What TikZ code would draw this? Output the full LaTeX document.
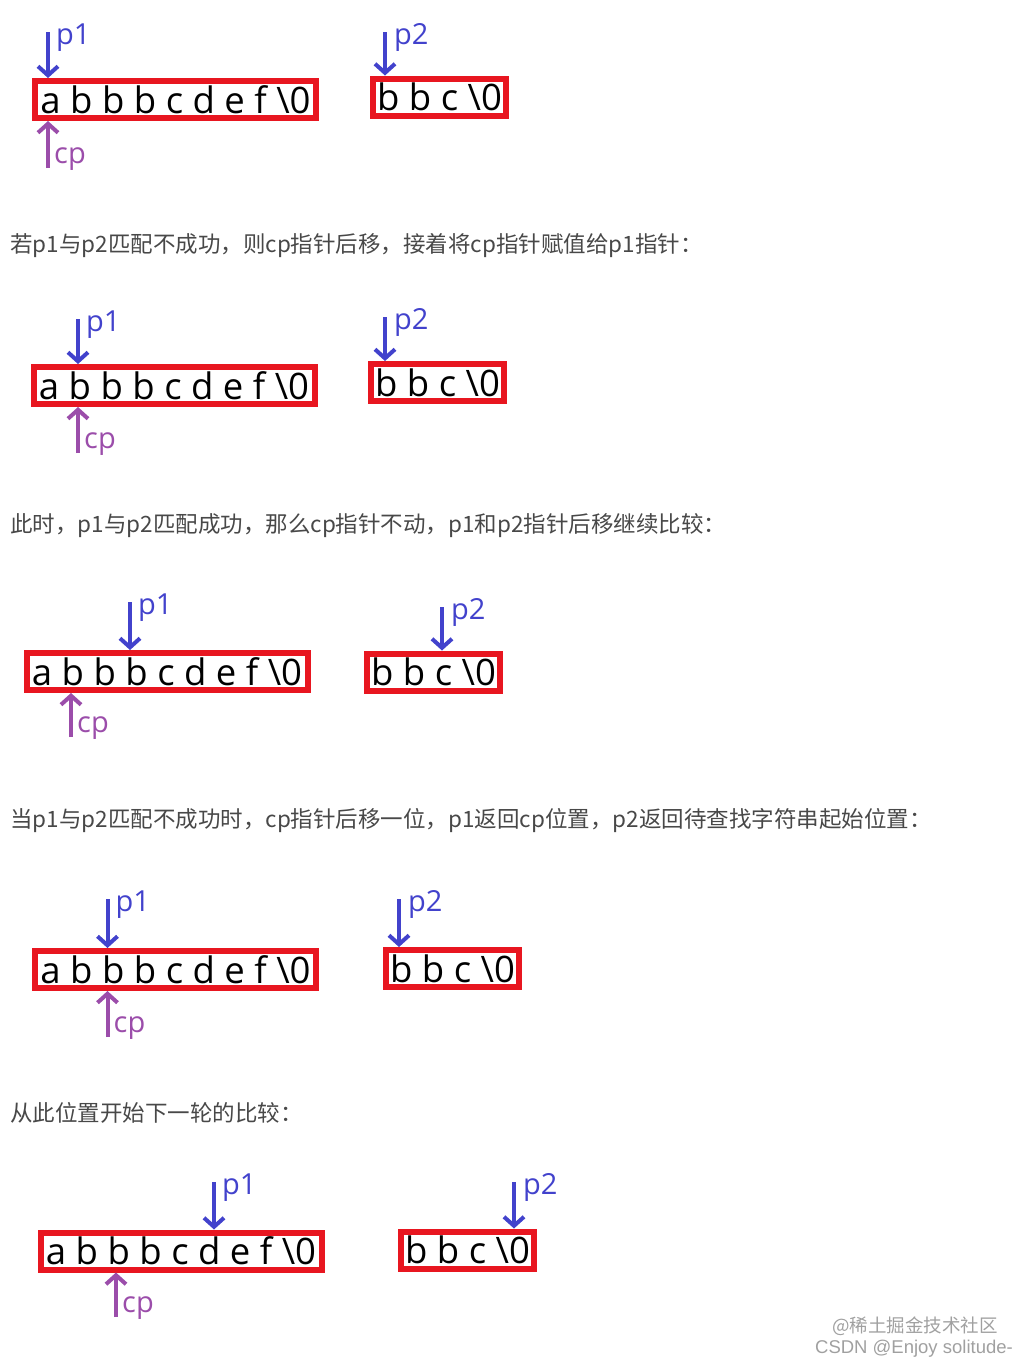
\documentclass[tikz,border=0pt]{standalone}
\usepackage{fontspec}
\setmainfont{Open Sans}
\newfontfamily\cjk{Noto Sans CJK SC}
\newfontfamily\wmfont{Liberation Sans}
\usetikzlibrary{arrows.meta,calc}

\definecolor{boxred}{RGB}{232,22,32}
\definecolor{ptrblue}{RGB}{66,66,204}
\definecolor{cppurple}{RGB}{155,77,170}
\definecolor{txtgray}{RGB}{72,72,72}
\definecolor{wmgray}{RGB}{160,160,160}

\tikzset{
	strbox/.style={draw=boxred, line width=6pt, inner sep=0pt, minimum height=37pt, font=\fontsize{36.5}{36.5}\selectfont},
	longbox/.style={strbox, minimum width=281pt},
	shortbox/.style={strbox, minimum width=133pt},
	ptr/.style={draw=ptrblue, line width=4pt, -{Straight Barb[length=9pt,width=20pt]}},
	cpptr/.style={ptr, draw=cppurple},
	ptrlabel/.style={text=ptrblue, anchor=base west, inner sep=0pt, font=\fontsize{29}{29}\selectfont},
	cplabel/.style={ptrlabel, text=cppurple},
	note/.style={anchor=west, inner sep=0pt, text=txtgray, font=\cjk\fontsize{22.5}{22.5}\selectfont},
	wm/.style={inner sep=0pt, text=wmgray, font=\wmfont\fontsize{18.5}{18.5}\selectfont},
}

\begin{document}
\begin{tikzpicture}[x=1pt, y=-1pt]
		%%%%% START %%%%%
		\useasboundingbox (0, 0) rectangle (1028, 1369);
		
		% first state
		\node[longbox] (s1) at (175.5, 99.5) {a b b b c d e f \textbackslash0};
		\node[shortbox] (t1) at (439.5, 97) {b b c \textbackslash0};
		\coordinate (a1) at (48, 32);
		\coordinate (b1) at (385, 32);
		\coordinate (c1) at (48, 168);
		\draw[ptr] (a1) -- (a1 |- s1.north);
		\draw[ptr] (b1) -- (b1 |- t1.north);
		\draw[cpptr] (c1) -- (c1 |- s1.south);
		\node[ptrlabel] (la1) at ($(a1)+(8, 12)$) {p1};
		\node[ptrlabel] (lb1) at ($(b1)+(9, 12)$) {p2};
		\node[cplabel] (lc1) at ($(c1)+(6, -5)$) {cp};
		
		\node[note] (n1) at (10, 246) {若p1与p2匹配不成功，则cp指针后移，接着将cp指针赋值给p1指针：};
		
		% second state
		\node[longbox] (s2) at (174, 385.5) {a b b b c d e f \textbackslash0};
		\node[shortbox] (t2) at (437.5, 382.5) {b b c \textbackslash0};
		\coordinate (a2) at (78, 319);
		\coordinate (b2) at (385, 317);
		\coordinate (c2) at (78, 453);
		\draw[ptr] (a2) -- (a2 |- s2.north);
		\draw[ptr] (b2) -- (b2 |- t2.north);
		\draw[cpptr] (c2) -- (c2 |- s2.south);
		\node[ptrlabel] (la2) at ($(a2)+(8, 12)$) {p1};
		\node[ptrlabel] (lb2) at ($(b2)+(9, 12)$) {p2};
		\node[cplabel] (lc2) at ($(c2)+(6, -5)$) {cp};
		
		\node[note] (n2) at (10, 526) {此时，p1与p2匹配成功，那么cp指针不动，p1和p2指针后移继续比较：};
		
		% third state
		\node[longbox] (s3) at (167, 671.5) {a b b b c d e f \textbackslash0};
		\node[shortbox] (t3) at (433.5, 672) {b b c \textbackslash0};
		\coordinate (a3) at (130, 602);
		\coordinate (b3) at (442, 607);
		\coordinate (c3) at (71, 737);
		\draw[ptr] (a3) -- (a3 |- s3.north);
		\draw[ptr] (b3) -- (b3 |- t3.north);
		\draw[cpptr] (c3) -- (c3 |- s3.south);
		\node[ptrlabel] (la3) at ($(a3)+(8, 12)$) {p1};
		\node[ptrlabel] (lb3) at ($(b3)+(9, 12)$) {p2};
		\node[cplabel] (lc3) at ($(c3)+(6, -5)$) {cp};
		
		\node[note] (n3) at (10, 821) {当p1与p2匹配不成功时，cp指针后移一位，p1返回cp位置，p2返回待查找字符串起始位置：};
		
		% fourth state
		\node[longbox] (s4) at (175.5, 969.5) {a b b b c d e f \textbackslash0};
		\node[shortbox] (t4) at (452.5, 968.5) {b b c \textbackslash0};
		\coordinate (a4) at (107.5, 899);
		\coordinate (b4) at (399, 899);
		\coordinate (c4) at (107.5, 1037);
		\draw[ptr] (a4) -- (a4 |- s4.north);
		\draw[ptr] (b4) -- (b4 |- t4.north);
		\draw[cpptr] (c4) -- (c4 |- s4.south);
		\node[ptrlabel] (la4) at ($(a4)+(8, 12)$) {p1};
		\node[ptrlabel] (lb4) at ($(b4)+(9, 12)$) {p2};
		\node[cplabel] (lc4) at ($(c4)+(6, -5)$) {cp};
		
		\node[note] (n4) at (10, 1113) {从此位置开始下一轮的比较：};
		
		% fifth state
		\node[longbox] (s5) at (181, 1251) {a b b b c d e f \textbackslash0};
		\node[shortbox] (t5) at (467.5, 1250) {b b c \textbackslash0};
		\coordinate (a5) at (214, 1182);
		\coordinate (b5) at (514, 1182);
		\coordinate (c5) at (116, 1317);
		\draw[ptr] (a5) -- (a5 |- s5.north);
		\draw[ptr] (b5) -- (b5 |- t5.north);
		\draw[cpptr] (c5) -- (c5 |- s5.south);
		\node[ptrlabel] (la5) at ($(a5)+(8, 12)$) {p1};
		\node[ptrlabel] (lb5) at ($(b5)+(9, 12)$) {p2};
		\node[cplabel] (lc5) at ($(c5)+(6, -5)$) {cp};
		
		% watermark
		\node[wm] (w1) at (915, 1326) {\cjk @稀土掘金技术社区};
		\node[wm] (w2) at (914, 1349) {CSDN @Enjoy solitude-};
		%%%%% END %%%%%
\end{tikzpicture}
\end{document}
